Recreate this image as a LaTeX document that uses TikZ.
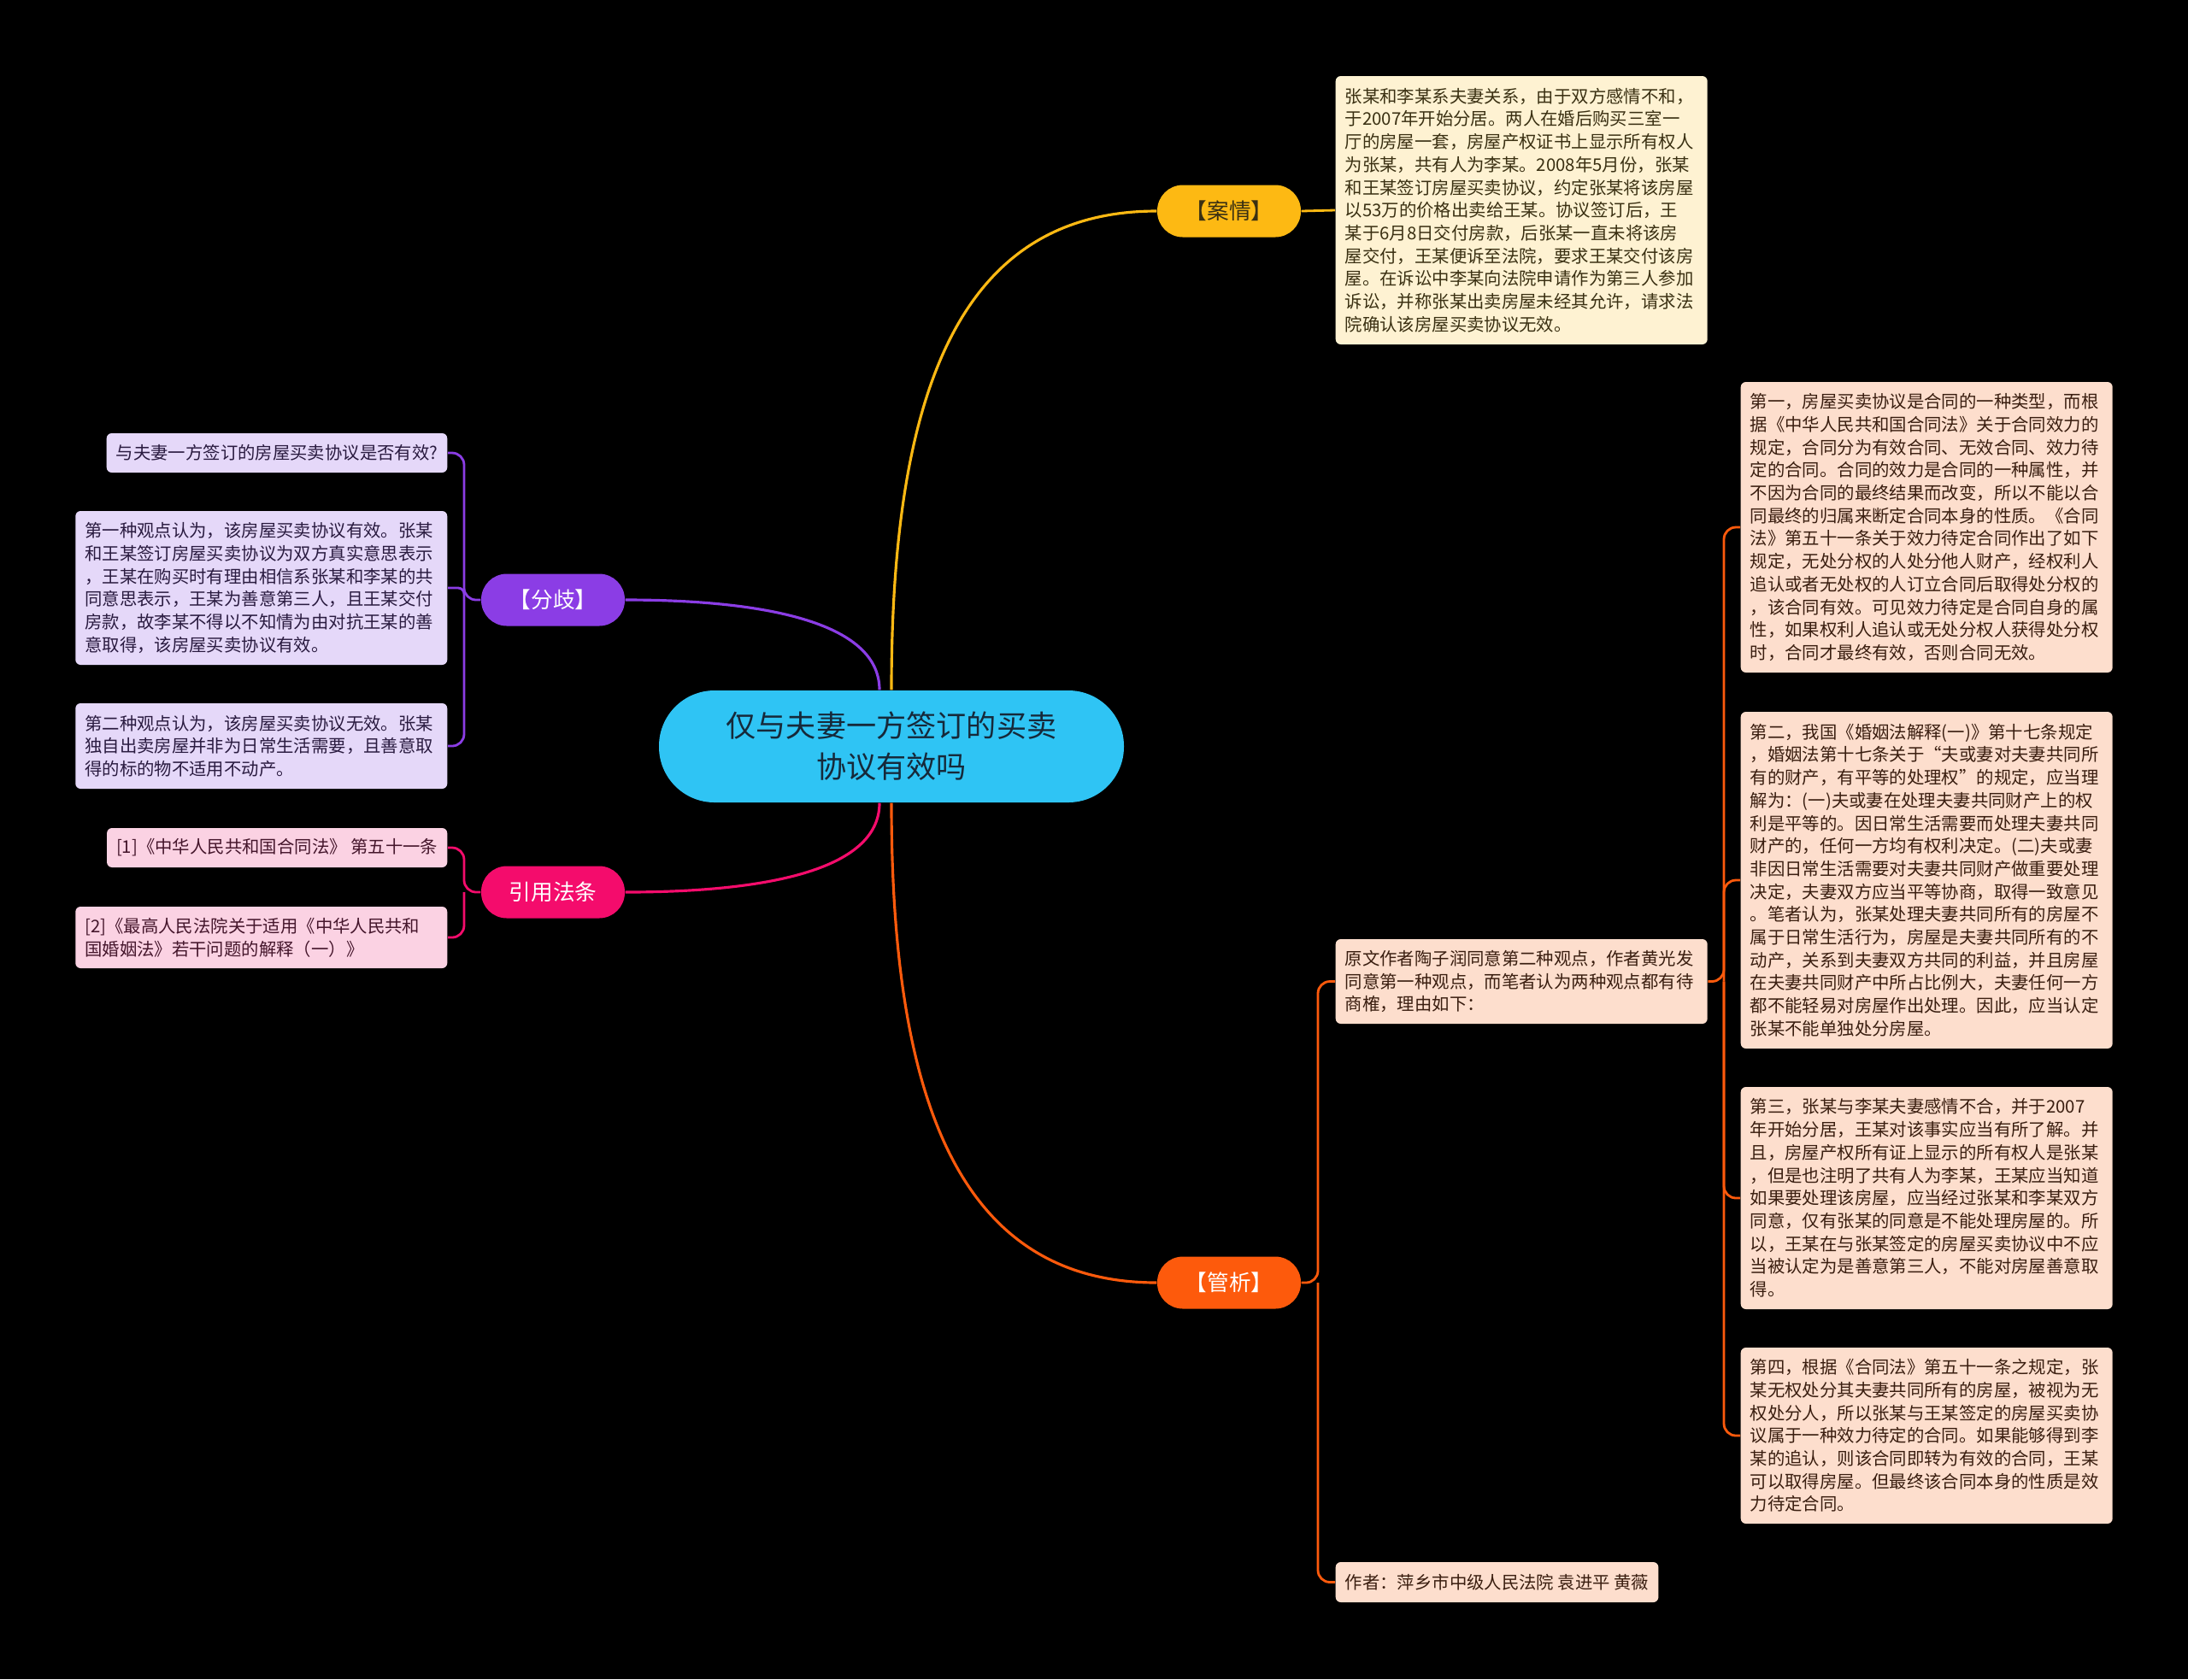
\documentclass[tikz,border=0pt]{standalone}
\usepackage{fontspec}
\setmainfont{Noto Sans CJK SC}
\usetikzlibrary{backgrounds}
\pgfdeclarelayer{edgelayer}
\pgfdeclarelayer{nodelayer}
\pgfsetlayers{background,edgelayer,nodelayer,main}
\definecolor{rootblue}{HTML}{2FC4F4}
\definecolor{roottext}{HTML}{16293A}
\definecolor{caseyellow}{HTML}{FDB913}
\definecolor{caseleaf}{HTML}{FEF2D2}
\definecolor{casetext}{HTML}{3A3012}
\definecolor{noteorange}{HTML}{FD5A0C}
\definecolor{noteleaf}{HTML}{FDDECD}
\definecolor{notetext}{HTML}{3A1E10}
\definecolor{viewpurple}{HTML}{8B3DE5}
\definecolor{viewleaf}{HTML}{E5D8F9}
\definecolor{viewtext}{HTML}{2A1B40}
\definecolor{citepink}{HTML}{F40C6C}
\definecolor{citeleaf}{HTML}{FBD2E3}
\definecolor{citetext}{HTML}{45162C}
\tikzset{font=\fontsize{5.8pt}{7.6pt}\selectfont}
\tikzstyle{none}=[inner sep=0pt]
\tikzstyle{root}=[rectangle,rounded corners=0.65cm,fill=rootblue,text=roottext,minimum width=5.44cm,minimum height=1.31cm,align=center,font=\fontsize{10pt}{13.7pt}\selectfont]
\tikzstyle{topic}=[rectangle,rounded corners=0.3cm,minimum width=1.68cm,minimum height=0.61cm,font=\fontsize{7.3pt}{8pt}\selectfont]
\tikzstyle{leaf}=[rectangle,rounded corners=0.06cm,align=left,inner xsep=0.11cm,inner ysep=0.08cm]
\tikzstyle{wide}=[leaf,text width=4.13cm]
\tikzstyle{link}=[line width=0.9pt]
\tikzstyle{sublink}=[line width=0.8pt,rounded corners=0.14cm]

\begin{document}
\begin{tikzpicture}
	\begin{pgfonlayer}{background}
		\useasboundingbox (0,0) rectangle (25.6,-19.65);
		\fill[black] (0,0) rectangle (25.6,-19.65);
	\end{pgfonlayer}
	\begin{pgfonlayer}{nodelayer}
		\node [style=root] (0) at (10.43, -8.735) {仅与夫妻一方签订的买卖\\协议有效吗};
		\node [style=topic,fill=caseyellow,text=casetext] (1) at (14.38, -2.47) {【案情】};
		\node [style=topic,fill=noteorange,text=white] (2) at (14.38, -15.01) {【管析】};
		\node [style=topic,fill=viewpurple,text=white] (3) at (6.47, -7.02) {【分歧】};
		\node [style=topic,fill=citepink,text=white] (4) at (6.47, -10.44) {引用法条};
		\node [style=wide,fill=caseleaf,text=casetext,minimum height=3.14cm,anchor=west] (5) at (15.62, -2.46) {张某和李某系夫妻关系，由于双方感情不和，\\于2007年开始分居。两人在婚后购买三室一\\厅的房屋一套，房屋产权证书上显示所有权人\\为张某，共有人为李某。2008年5月份，张某\\和王某签订房屋买卖协议，约定张某将该房屋\\以53万的价格出卖给王某。协议签订后，王\\某于6月8日交付房款，后张某一直未将该房\\屋交付，王某便诉至法院，要求王某交付该房\\屋。在诉讼中李某向法院申请作为第三人参加\\诉讼，并称张某出卖房屋未经其允许，请求法\\院确认该房屋买卖协议无效。};
		\node [style=wide,fill=noteleaf,text=notetext,minimum height=0.99cm,anchor=west] (6) at (15.62, -11.485) {原文作者陶子润同意第二种观点，作者黄光发\\同意第一种观点，而笔者认为两种观点都有待\\商榷，理由如下：};
		\node [style=wide,fill=noteleaf,text=notetext,minimum height=3.4cm,anchor=west] (7) at (20.36, -6.17) {第一，房屋买卖协议是合同的一种类型，而根\\据《中华人民共和国合同法》关于合同效力的\\规定，合同分为有效合同、无效合同、效力待\\定的合同。合同的效力是合同的一种属性，并\\不因为合同的最终结果而改变，所以不能以合\\同最终的归属来断定合同本身的性质。《合同\\法》第五十一条关于效力待定合同作出了如下\\规定，无处分权的人处分他人财产，经权利人\\追认或者无处权的人订立合同后取得处分权的\\，该合同有效。可见效力待定是合同自身的属\\性，如果权利人追认或无处分权人获得处分权\\时，合同才最终有效，否则合同无效。};
		\node [style=wide,fill=noteleaf,text=notetext,minimum height=3.94cm,anchor=west] (8) at (20.36, -10.3) {第二，我国《婚姻法解释(一)》第十七条规定\\，婚姻法第十七条关于“夫或妻对夫妻共同所\\有的财产，有平等的处理权”的规定，应当理\\解为：(一)夫或妻在处理夫妻共同财产上的权\\利是平等的。因日常生活需要而处理夫妻共同\\财产的，任何一方均有权利决定。(二)夫或妻\\非因日常生活需要对夫妻共同财产做重要处理\\决定，夫妻双方应当平等协商，取得一致意见\\。笔者认为，张某处理夫妻共同所有的房屋不\\属于日常生活行为，房屋是夫妻共同所有的不\\动产，关系到夫妻双方共同的利益，并且房屋\\在夫妻共同财产中所占比例大，夫妻任何一方\\都不能轻易对房屋作出处理。因此，应当认定\\张某不能单独处分房屋。};
		\node [style=wide,fill=noteleaf,text=notetext,minimum height=2.6cm,anchor=west] (9) at (20.36, -14.02) {第三，张某与李某夫妻感情不合，并于2007\\年开始分居，王某对该事实应当有所了解。并\\且，房屋产权所有证上显示的所有权人是张某\\，但是也注明了共有人为李某，王某应当知道\\如果要处理该房屋，应当经过张某和李某双方\\同意，仅有张某的同意是不能处理房屋的。所\\以，王某在与张某签定的房屋买卖协议中不应\\当被认定为是善意第三人，不能对房屋善意取\\得。};
		\node [style=wide,fill=noteleaf,text=notetext,minimum height=2.06cm,anchor=west] (10) at (20.36, -16.8) {第四，根据《合同法》第五十一条之规定，张\\某无权处分其夫妻共同所有的房屋，被视为无\\权处分人，所以张某与王某签定的房屋买卖协\\议属于一种效力待定的合同。如果能够得到李\\某的追认，则该合同即转为有效的合同，王某\\可以取得房屋。但最终该合同本身的性质是效\\力待定合同。};
		\node [style=leaf,fill=noteleaf,text=notetext,minimum height=0.47cm,anchor=west] (11) at (15.62, -18.515) {作者：萍乡市中级人民法院 袁进平 黄薇};
		\node [style=leaf,fill=viewleaf,text=viewtext,minimum height=0.46cm,anchor=east] (12) at (5.24, -5.3) {与夫妻一方签订的房屋买卖协议是否有效?};
		\node [style=wide,fill=viewleaf,text=viewtext,minimum height=1.8cm,anchor=east] (13) at (5.24, -6.88) {第一种观点认为，该房屋买卖协议有效。张某\\和王某签订房屋买卖协议为双方真实意思表示\\，王某在购买时有理由相信系张某和李某的共\\同意思表示，王某为善意第三人，且王某交付\\房款，故李某不得以不知情为由对抗王某的善\\意取得，该房屋买卖协议有效。};
		\node [style=wide,fill=viewleaf,text=viewtext,minimum height=1.0cm,anchor=east] (14) at (5.24, -8.73) {第二种观点认为，该房屋买卖协议无效。张某\\独自出卖房屋并非为日常生活需要，且善意取\\得的标的物不适用不动产。};
		\node [style=leaf,fill=citeleaf,text=citetext,minimum height=0.46cm,anchor=east] (15) at (5.24, -9.92) {[1]《中华人民共和国合同法》 第五十一条};
		\node [style=wide,fill=citeleaf,text=citetext,minimum height=0.72cm,anchor=east] (16) at (5.24, -10.97) {[2]《最高人民法院关于适用《中华人民共和\\国婚姻法》若干问题的解释（一）》};
		\coordinate (17) at (15.42, -15.01);
		\coordinate (18) at (20.17, -11.485);
		\coordinate (19) at (5.43, -7.02);
		\coordinate (20) at (5.43, -10.44);
	\end{pgfonlayer}
	\begin{pgfonlayer}{edgelayer}
		\draw [style=link,caseyellow] (0.north) .. controls +(0,3.5) and +(-2.3,0) .. (1.west);
		\draw [style=link,noteorange] (0.south) .. controls +(0,-3.5) and +(-2.3,0) .. (2.west);
		\draw [style=link,viewpurple] ([xshift=-0.14cm]0.north) .. controls +(0,0.8) and +(1.6,0) .. (3.east);
		\draw [style=link,citepink] ([xshift=-0.14cm]0.south) .. controls +(0,-0.8) and +(1.6,0) .. (4.east);
		\draw [style=sublink,caseyellow] (1.east) to (5.west);
		\draw [style=sublink,noteorange] (2.east) -- (17) |- (6.west);
		\draw [style=sublink,noteorange] (17) |- (11.west);
		\draw [style=sublink,noteorange] (6.east) -- (18) |- (7.west);
		\draw [style=sublink,noteorange] (18) |- (8.west);
		\draw [style=sublink,noteorange] (18) |- (9.west);
		\draw [style=sublink,noteorange] (18) |- (10.west);
		\draw [style=sublink,viewpurple] (3.west) -- (19) |- (12.east);
		\draw [style=sublink,viewpurple,rounded corners=0.07cm] (19) |- (13.east);
		\draw [style=sublink,viewpurple] (19) |- (14.east);
		\draw [style=sublink,citepink] (4.west) -- (20) |- (15.east);
		\draw [style=sublink,citepink] (20) |- (16.east);
	\end{pgfonlayer}
\end{tikzpicture}
\end{document}
